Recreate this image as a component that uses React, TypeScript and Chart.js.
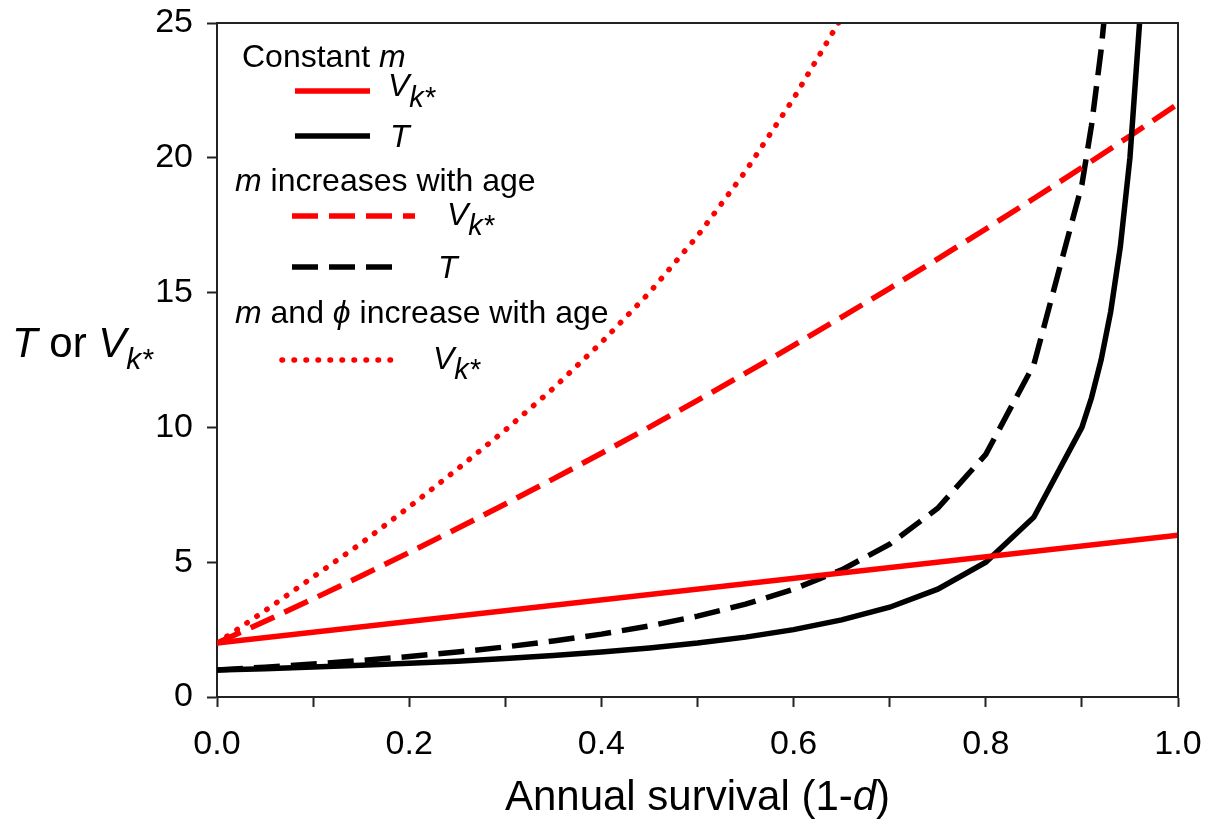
import React, { useEffect, useRef } from 'react';
import { Chart, registerables } from 'chart.js';

Chart.register(...registerables);

// ---- data ----
const constVSurvival = [0, 1];
const constVValues = [2, 6];

const constTSurvival = [0, 0.05, 0.1, 0.15, 0.2, 0.25, 0.3, 0.35, 0.4, 0.45, 0.5, 0.55, 0.6, 0.65, 0.7, 0.75, 0.8, 0.85, 0.9, 0.91, 0.92, 0.93, 0.94, 0.95, 0.96, 0.97];
const constTValues = [1, 1.05, 1.11, 1.18, 1.25, 1.33, 1.43, 1.54, 1.67, 1.82, 2, 2.22, 2.5, 2.86, 3.33, 4, 5, 6.67, 10, 11.1, 12.5, 14.3, 16.7, 20, 25, 33.3];

const incVSurvival = [0, 0.05, 0.1, 0.15, 0.2, 0.25, 0.3, 0.35, 0.4, 0.45, 0.5, 0.55, 0.6, 0.65, 0.7, 0.75, 0.8, 0.85, 0.9, 0.95, 1];
const incVValues = [2, 2.81, 3.64, 4.49, 5.36, 6.25, 7.16, 8.09, 9.04, 10.01, 11.0, 12.01, 13.04, 14.09, 15.16, 16.25, 17.36, 18.49, 19.64, 20.81, 22];

const incTSurvival = [0, 0.05, 0.1, 0.15, 0.2, 0.25, 0.3, 0.35, 0.4, 0.45, 0.5, 0.55, 0.6, 0.65, 0.7, 0.75, 0.8, 0.85, 0.9, 0.91, 0.92, 0.93];
const incTValues = [1, 1.105, 1.222, 1.353, 1.5, 1.667, 1.857, 2.077, 2.333, 2.636, 3, 3.444, 4, 4.714, 5.667, 7, 9, 12.33, 19, 21.2, 24, 27.6];

const phiVSurvival = [0, 0.05, 0.1, 0.15, 0.2, 0.25, 0.3, 0.35, 0.4, 0.45, 0.5, 0.55, 0.6, 0.65];
const phiVValues = [2, 3.2, 4.45, 5.7, 7.05, 8.45, 9.9, 11.45, 13.15, 15.0, 17.1, 19.5, 22.2, 25.2];

const xTickStep = 0.1;
const yTickStep = 5;
const xMin = 0, xMax = 1, yMin = 0, yMax = 25;

const FONT = '"Liberation Sans", Arial, sans-serif';
const RED = '#ff0000';
const BLACK = '#000000';
const LW = 5.5;

type Run = { text: string; italic?: boolean; size: number; dy?: number };

function drawRuns(ctx: CanvasRenderingContext2D, x: number, baseline: number, runs: Run[], align: 'left' | 'center' = 'left') {
  ctx.save();
  ctx.fillStyle = '#000';
  ctx.textBaseline = 'alphabetic';
  ctx.textAlign = 'left';
  let total = 0;
  const widths = runs.map(r => {
    ctx.font = `${r.italic ? 'italic ' : ''}${r.size}px ${FONT}`;
    const w = ctx.measureText(r.text).width;
    total += w;
    return w;
  });
  let cx = align === 'center' ? x - total / 2 : x;
  runs.forEach((r, i) => {
    ctx.font = `${r.italic ? 'italic ' : ''}${r.size}px ${FONT}`;
    ctx.fillText(r.text, cx, baseline + (r.dy || 0));
    cx += widths[i];
  });
  ctx.restore();
}

function legendLine(ctx: CanvasRenderingContext2D, x1: number, x2: number, y: number, color: string, dash: number[]) {
  ctx.save();
  ctx.strokeStyle = color;
  ctx.lineWidth = LW;
  ctx.lineCap = dash.length && dash[0] < 2 ? 'round' : 'butt';
  ctx.setLineDash(dash);
  ctx.beginPath();
  ctx.moveTo(x1, y);
  ctx.lineTo(x2, y);
  ctx.stroke();
  ctx.restore();
}

const DASH = [26, 11];
const DOT = [0.5, 11.5];

const decorPlugin = {
  id: 'decor',
  afterDraw(chart: any) {
    const ctx: CanvasRenderingContext2D = chart.ctx;
    const a = chart.chartArea;
    // frame top + right
    ctx.save();
    ctx.strokeStyle = '#222';
    ctx.lineWidth = 2;
    ctx.beginPath();
    ctx.moveTo(a.left, a.top);
    ctx.lineTo(a.right, a.top);
    ctx.lineTo(a.right, a.bottom);
    ctx.stroke();
    ctx.restore();

    // axis titles
    drawRuns(ctx, (a.left + a.right) / 2, 810, [
      { text: 'Annual survival (1-', size: 42 },
      { text: 'd', size: 42, italic: true },
      { text: ')', size: 42 },
    ], 'center');
    drawRuns(ctx, 12, 357, [
      { text: 'T', size: 42, italic: true },
      { text: ' or ', size: 42 },
      { text: 'V', size: 42, italic: true },
      { text: 'k*', size: 30, italic: true, dy: 12 },
    ]);

    // legend
    drawRuns(ctx, 242, 67, [
      { text: 'Constant ', size: 32 },
      { text: 'm', size: 32, italic: true },
    ]);
    legendLine(ctx, 295, 370, 91, RED, []);
    drawRuns(ctx, 388, 96, [
      { text: 'V', size: 32, italic: true },
      { text: 'k*', size: 29, italic: true, dy: 11 },
    ]);
    legendLine(ctx, 295, 370, 136, BLACK, []);
    drawRuns(ctx, 390, 147, [{ text: 'T', size: 32, italic: true }]);

    drawRuns(ctx, 235, 191, [
      { text: 'm', size: 32, italic: true },
      { text: ' increases with age', size: 32 },
    ]);
    legendLine(ctx, 292, 415, 216, RED, DASH);
    drawRuns(ctx, 447, 225, [
      { text: 'V', size: 32, italic: true },
      { text: 'k*', size: 29, italic: true, dy: 10 },
    ]);
    legendLine(ctx, 292, 402, 267, BLACK, DASH);
    drawRuns(ctx, 438, 278, [{ text: 'T', size: 32, italic: true }]);

    drawRuns(ctx, 235, 323, [
      { text: 'm', size: 32, italic: true },
      { text: ' and ', size: 32 },
      { text: 'ϕ', size: 32, italic: true },
      { text: ' increase with age', size: 32 },
    ]);
    legendLine(ctx, 282, 402, 360, RED, DOT);
    drawRuns(ctx, 433, 369, [
      { text: 'V', size: 32, italic: true },
      { text: 'k*', size: 29, italic: true, dy: 10 },
    ]);
  },
};

function pts(xs: number[], ys: number[]) {
  return xs.map((x, i) => ({ x, y: ys[i] }));
}

export default function App() {
  const ref = useRef<HTMLCanvasElement>(null);
  useEffect(() => {
    const canvas = ref.current!;
    const common = { pointRadius: 0, borderWidth: LW, tension: 0, fill: false, clip: 0 };
    const chart = new Chart(canvas, {
      type: 'line',
      data: {
        datasets: [
          { ...common, data: pts(constVSurvival, constVValues), borderColor: RED },
          { ...common, data: pts(constTSurvival, constTValues), borderColor: BLACK },
          { ...common, data: pts(incVSurvival, incVValues), borderColor: RED, borderDash: DASH },
          { ...common, data: pts(incTSurvival, incTValues), borderColor: BLACK, borderDash: DASH },
          { ...common, data: pts(phiVSurvival, phiVValues), borderColor: RED, borderDash: DOT, borderCapStyle: 'round' },
        ] as any,
      },
      options: {
        responsive: false,
        animation: false,
        devicePixelRatio: 1,
        layout: { autoPadding: false, padding: { top: 23, right: 34, left: 0, bottom: 0 } },
        plugins: { legend: { display: false }, tooltip: { enabled: false }, title: { display: false } },
        scales: {
          x: {
            type: 'linear',
            min: xMin,
            max: xMax,
            afterFit: (s: any) => { s.height = 143; s.paddingLeft = 0; s.paddingRight = 0; },
            grid: { display: true, drawOnChartArea: false, drawTicks: true, tickLength: 10, tickColor: '#222', tickWidth: 2 },
            border: { display: true, color: '#222', width: 2 },
            ticks: {
              stepSize: xTickStep,
              autoSkip: false,
              maxRotation: 0,
              padding: 17,
              color: '#000',
              font: { family: FONT, size: 34 },
              callback: (v: any) => {
                const r = Math.round(Number(v) * 10);
                return r % 2 === 0 ? (r / 10).toFixed(1) : '';
              },
            },
          },
          y: {
            type: 'linear',
            min: yMin,
            max: yMax,
            afterFit: (s: any) => { s.width = 217; s.paddingTop = 0; s.paddingBottom = 0; },
            grid: { display: true, drawOnChartArea: false, drawTicks: true, tickLength: 10, tickColor: '#222', tickWidth: 2 },
            border: { display: true, color: '#222', width: 2 },
            ticks: {
              stepSize: yTickStep,
              padding: 14,
              color: '#000',
              font: { family: FONT, size: 34 },
            },
          },
        },
      } as any,
      plugins: [decorPlugin],
    });
    return () => chart.destroy();
  }, []);
  return (
    <div style={{ position: 'absolute', left: 0, top: 0, width: 1212, height: 840, background: '#fff' }}>
      <canvas ref={ref} width={1212} height={840} style={{ display: 'block', width: 1212, height: 840 }} />
    </div>
  );
}
